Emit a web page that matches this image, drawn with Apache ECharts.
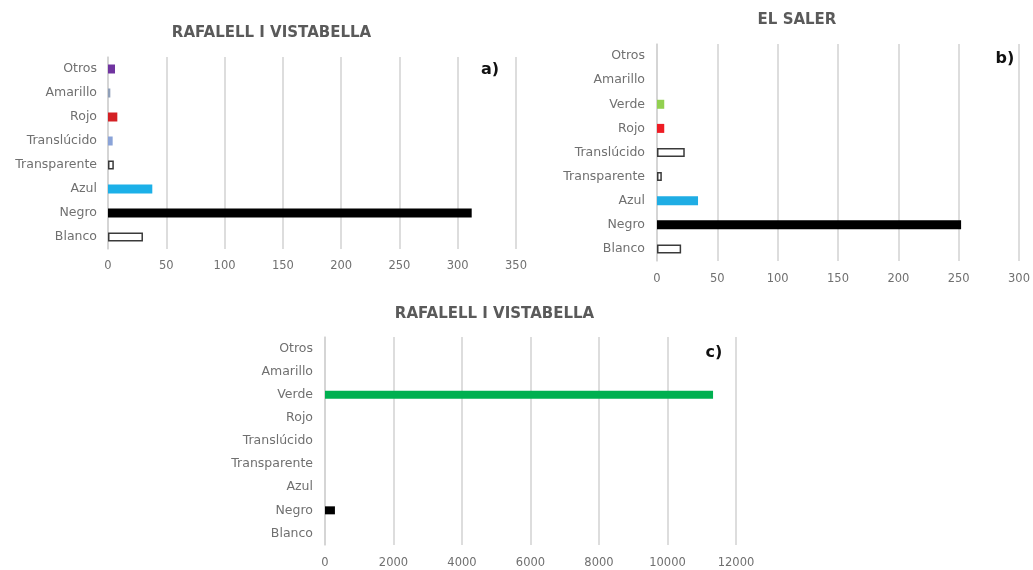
<!DOCTYPE html>
<html>
<head>
<meta charset="utf-8">
<script src="https://cdn.jsdelivr.net/npm/echarts@6/dist/echarts.min.js"></script>
<style>
  html, body { margin: 0; padding: 0; background: #fff; }
  #chart { width: 1033px; height: 570px; }
</style>
</head>
<body>
<div id="chart"></div>
<script>
// Categories are listed bottom-to-top (ECharts category y axis starts at the bottom)
const catsA = ['Blanco', 'Negro', 'Azul', 'Transparente', 'Translúcido', 'Rojo', 'Amarillo', 'Otros'];
const valsA = [30, 312, 38, 5, 4, 8, 2, 6];
const ticksA = [0, 50, 100, 150, 200, 250, 300, 350];

const catsB = ['Blanco', 'Negro', 'Azul', 'Transparente', 'Translúcido', 'Rojo', 'Verde', 'Amarillo', 'Otros'];
const valsB = [20, 252, 34, 4, 23, 6, 6, 0, 0];
const ticksB = [0, 50, 100, 150, 200, 250, 300];

const catsC = ['Blanco', 'Negro', 'Azul', 'Transparente', 'Translúcido', 'Rojo', 'Verde', 'Amarillo', 'Otros'];
const valsC = [0, 290, 0, 0, 0, 0, 11330, 0, 0];
const ticksC = [0, 2000, 4000, 6000, 8000, 10000, 12000];

const titleA = 'RAFALELL I VISTABELLA';
const titleB = 'EL SALER';
const titleC = 'RAFALELL I VISTABELLA';

// Fill / outline per colour category, one map per panel
const OUTLINE = { color: '#ffffff', borderColor: '#3a3a3a', borderWidth: 1.5 };
const styleA = {
  'Blanco': OUTLINE,
  'Negro': { color: '#000000' },
  'Azul': { color: '#1cb0e8' },
  'Transparente': OUTLINE,
  'Translúcido': { color: '#8aa3d8' },
  'Rojo': { color: '#d42024' },
  'Amarillo': { color: '#8f9fb8' },
  'Otros': { color: '#7034a0' }
};
const styleB = {
  'Blanco': OUTLINE,
  'Negro': { color: '#000000' },
  'Azul': { color: '#1fade4' },
  'Transparente': OUTLINE,
  'Translúcido': OUTLINE,
  'Rojo': { color: '#ee1c24' },
  'Verde': { color: '#92d050' },
  'Amarillo': { color: '#ffd966' },
  'Otros': { color: '#7034a0' }
};
const styleC = {
  'Negro': { color: '#000000' },
  'Verde': { color: '#00b050' }
};

const FONT = 'DejaVu Sans';
const LABEL_COLOR = '#707070';
const GRID_COLOR = '#d2d2d2';

function items(cats, vals, styles) {
  return vals.map((v, i) => ({ value: v, itemStyle: styles[cats[i]] || { color: '#999' } }));
}

function xAxis(gridIndex, ticks, margin) {
  return {
    type: 'value', gridIndex,
    min: ticks[0], max: ticks[ticks.length - 1], interval: ticks[1] - ticks[0],
    axisLine: { show: false }, axisTick: { show: false },
    axisLabel: {
      color: LABEL_COLOR, fontFamily: FONT, fontSize: 11.5, margin,
      formatter: v => String(v)
    },
    splitLine: { show: true, lineStyle: { color: GRID_COLOR, width: 1.5 } }
  };
}

function yAxis(gridIndex, cats, margin) {
  return {
    type: 'category', gridIndex, data: cats,
    axisLine: { show: true, lineStyle: { color: GRID_COLOR, width: 1.5 } },
    axisTick: { show: false },
    axisLabel: { color: LABEL_COLOR, fontFamily: FONT, fontSize: 12.5, margin, interval: 0 },
    splitLine: { show: false }
  };
}

function heading(text, x, y, size, color) {
  return {
    type: 'text', x, y, silent: true,
    style: {
      text, fill: color, fontFamily: FONT, fontWeight: 'bold', fontSize: size,
      align: 'center', verticalAlign: 'middle', textAlign: 'center', textVerticalAlign: 'middle'
    }
  };
}

const chart = echarts.init(document.getElementById('chart'), null, { renderer: 'canvas' });
chart.setOption({
  backgroundColor: '#ffffff',
  animation: false,
  grid: [
    { left: 108, top: 57, width: 408, height: 192 },
    { left: 657, top: 44, width: 364, height: 217 },
    { left: 325, top: 337, width: 411, height: 208 }
  ],
  xAxis: [xAxis(0, ticksA, 11), xAxis(1, ticksB, 12), xAxis(2, ticksC, 12)],
  yAxis: [yAxis(0, catsA, 11), yAxis(1, catsB, 12), yAxis(2, catsC, 12)],
  series: [
    { type: 'bar', xAxisIndex: 0, yAxisIndex: 0, barWidth: 9, data: items(catsA, valsA, styleA) },
    { type: 'bar', xAxisIndex: 1, yAxisIndex: 1, barWidth: 9, data: items(catsB, valsB, styleB) },
    { type: 'bar', xAxisIndex: 2, yAxisIndex: 2, barWidth: 8, data: items(catsC, valsC, styleC) }
  ],
  graphic: [
    heading(titleA, 271.5, 33.5, 15, '#5a5a5a'),
    heading(titleB, 797, 20.5, 15, '#5a5a5a'),
    heading(titleC, 494.5, 314, 15, '#5a5a5a'),
    heading('a)', 490, 70, 16, '#111111'),
    heading('b)', 1005, 59, 16, '#111111'),
    heading('c)', 714, 353, 16, '#111111')
  ]
});
</script>
</body>
</html>
